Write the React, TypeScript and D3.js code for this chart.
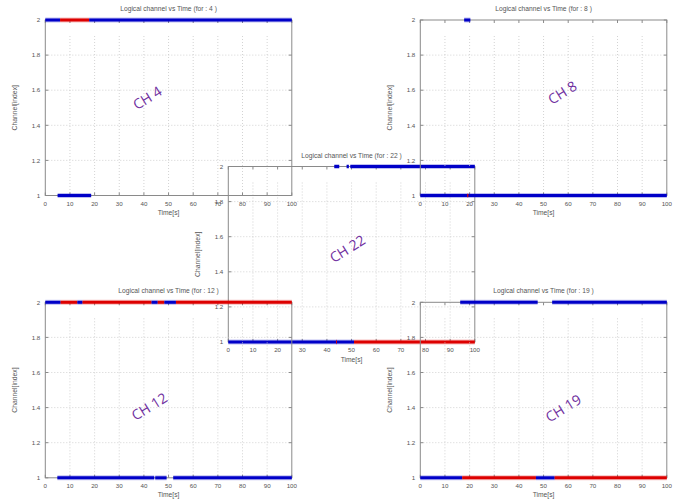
import React from 'react';
import * as d3 from 'd3';

type Seg = [number, number, number, 'B' | 'R'];

const xTicks = [0, 10, 20, 30, 40, 50, 60, 70, 80, 90, 100];
const yTicks = [1, 1.2, 1.4, 1.6, 1.8, 2];

const ch4Segments: Seg[] = [
  [0, 6, 2, 'B'], [6, 17.8, 2, 'R'], [17.8, 100, 2, 'B'],
  [5, 18.6, 1, 'B'],
];
const ch8Segments: Seg[] = [
  [17.8, 20.3, 2, 'B'],
  [0, 100, 1, 'B'], [19, 19.5, 1, 'R'],
];
const ch22Segments: Seg[] = [
  [43, 45, 2, 'B'], [48, 48.9, 2, 'B'], [49.5, 100, 2, 'B'],
  [0, 51, 1, 'B'], [51, 100, 1, 'R'], [43.7, 44.1, 1, 'R'],
];
const ch12Segments: Seg[] = [
  [0, 6.2, 2, 'B'], [6.2, 13, 2, 'R'], [13, 15.1, 2, 'B'], [15.1, 43.1, 2, 'R'],
  [43.1, 45.6, 2, 'B'], [45.6, 48.3, 2, 'R'], [48.3, 53, 2, 'B'], [53, 100, 2, 'R'],
  [4.9, 44.2, 1, 'B'], [44.6, 49.2, 1, 'B'], [51.9, 100, 1, 'B'],
];
const ch19Segments: Seg[] = [
  [16.2, 47.6, 2, 'B'], [53.5, 100, 2, 'B'],
  [0, 17, 1, 'B'], [17, 46.9, 1, 'R'], [46.9, 54.5, 1, 'B'], [54.5, 100, 1, 'R'],
];

// draw order: centre panel first, corners on top
const channelIds = [22, 4, 8, 12, 19];
const segmentsList = [ch22Segments, ch4Segments, ch8Segments, ch12Segments, ch19Segments];
const labelX = [48.6, 41.7, 57.9, 42.5, 58.3];
const labelY = [1.525, 1.55, 1.58, 1.40, 1.39];

const panelLeft = [228.3, 45.3, 420.3, 45.3, 420.3];
const panelTop = [166.5, 20, 20, 302.3, 302.3];
const PW = 246.5;
const PH = 175.5;

const COLORS: Record<string, string> = { B: '#0000c8', R: '#dd0000' };
const FONT = '"Liberation Sans", Arial, sans-serif';
const TXT = '#555';

function Panel({ idx }: { idx: number }) {
  const left = panelLeft[idx];
  const top = panelTop[idx];
  const x = d3.scaleLinear().domain([0, 100]).range([left, left + PW]);
  const y = d3.scaleLinear().domain([1, 2]).range([top + PH, top]);
  const segs = segmentsList[idx];
  const fmt = (v: number) => (Number.isInteger(v) ? String(v) : v.toFixed(1));
  const tl = 3;
  return (
    <g>
      {yTicks.filter(t => t > 1 && t < 2).map(t => (
        <line key={'gy' + t} x1={x(0)} x2={x(100)} y1={y(t)} y2={y(t)}
          stroke="#c8c8c8" strokeWidth={0.8} strokeDasharray="1,2" />
      ))}
      {xTicks.filter(t => t > 0 && t < 100).map(t => (
        <line key={'gx' + t} x1={x(t)} x2={x(t)} y1={top + 16} y2={y(1)}
          stroke="#c8c8c8" strokeWidth={0.8} strokeDasharray="1,2" />
      ))}
      <rect x={x(0)} y={y(2)} width={PW} height={PH} fill="none" stroke="#8a8a8a" strokeWidth={1} />
      {xTicks.map(t => (
        <g key={'tx' + t}>
          <line x1={x(t)} x2={x(t)} y1={y(1)} y2={y(1) - tl} stroke="#8a8a8a" strokeWidth={1} />
          <line x1={x(t)} x2={x(t)} y1={y(2)} y2={y(2) + tl} stroke="#8a8a8a" strokeWidth={1} />
          <text x={x(t)} y={y(1) + 10} textAnchor="middle" fontSize={6.2} fill={TXT} fontFamily={FONT}>{t}</text>
        </g>
      ))}
      {yTicks.map(t => (
        <g key={'ty' + t}>
          <line x1={x(0)} x2={x(0) + tl} y1={y(t)} y2={y(t)} stroke="#8a8a8a" strokeWidth={1} />
          <line x1={x(100)} x2={x(100) - tl} y1={y(t)} y2={y(t)} stroke="#8a8a8a" strokeWidth={1} />
          <text x={x(0) - 5} y={y(t) + 2.2} textAnchor="end" fontSize={6.2} fill={TXT} fontFamily={FONT}>{fmt(t)}</text>
        </g>
      ))}
      <text x={(x(0) + x(100)) / 2} y={top - 9} textAnchor="middle" fontSize={6.7} fill={TXT} fontFamily={FONT}>
        {`Logical channel vs Time (for : ${channelIds[idx]} )`}
      </text>
      <text x={(x(0) + x(100)) / 2} y={y(1) + 19.5} textAnchor="middle" fontSize={6.7} fill={TXT} fontFamily={FONT}>Time[s]</text>
      <text transform={`translate(${x(0) - 28},${(y(1) + y(2)) / 2}) rotate(-90)`} textAnchor="middle"
        fontSize={6.8} fill={TXT} fontFamily={FONT}>Channel[index]</text>
      {segs.map((s, i) => (
        <line key={'h' + i} x1={x(s[0])} x2={x(s[1])} y1={y(s[2])} y2={y(s[2])}
          stroke={COLORS[s[3]]} strokeOpacity={0.25} strokeWidth={5} />
      ))}
      {segs.map((s, i) => (
        <line key={'s' + i} x1={x(s[0])} x2={x(s[1])} y1={y(s[2])} y2={y(s[2])}
          stroke={COLORS[s[3]]} strokeWidth={3} />
      ))}
      <text transform={`translate(${x(labelX[idx])},${y(labelY[idx])}) rotate(-32)`} textAnchor="middle"
        dominantBaseline="middle" fontSize={14} fill="#7030a0" fontFamily='"Open Sans", sans-serif'>
        {`CH ${channelIds[idx]}`}
      </text>
    </g>
  );
}

export default function App() {
  return (
    <div style={{ position: 'absolute', left: 0, top: 0 }}>
      <svg width={678} height={502} style={{ display: 'block', background: '#fff' }}>
        {channelIds.map((_, i) => <Panel key={i} idx={i} />)}
      </svg>
    </div>
  );
}
